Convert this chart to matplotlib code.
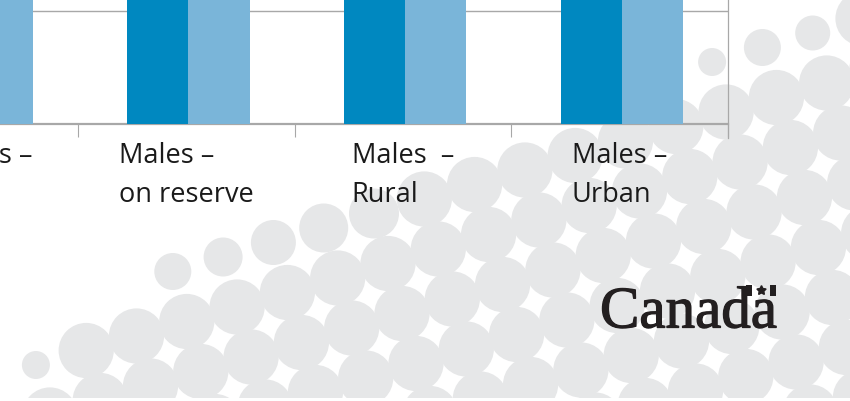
import numpy as np
import matplotlib
matplotlib.use("Agg")
import matplotlib.pyplot as plt
import matplotlib.patheffects as pe
from matplotlib.patches import Circle, Rectangle

# Datos (las barras salen por arriba del recorte)
categories = ["Females –\nUrban", "Males –\non reserve", "Males  –\nRural", "Males –\nUrban"]
dark_vals  = [24.0, 21.5, 27.0, 23.0]
light_vals = [25.5, 23.0, 28.5, 26.0]

dark_col  = "#0088c0"
light_col = "#7ab5d9"
grid_col  = "#a8a8a8"
dot_col   = "#e6e7e8"

W, H = 850, 402
fig = plt.figure(figsize=(W / 100, H / 100), dpi=100)

# --- fondo decorativo: circulos grises (coordenadas en pixeles, y hacia abajo)
bg = fig.add_axes([0, 0, 1, 1], zorder=0)
bg.set_xlim(0, W)
bg.set_ylim(H, 0)
bg.axis("off")

origin = np.array([438.3, 250.0])
u = np.array([50.3, -14.5])
v = np.array([14.0, 50.0])
R = 27.6
# radios parciales en las filas del borde del patron
edge_rows = {
    -2: {6: 14, 7: 18.5, 8: 17.5},
    -1: {-5: 18.5, -4: 19.5, -3: 22.5, -2: 24.5, -1: 25},
    0: {-8: 14},
}
row_start = {-2: 6, -1: -5, 0: -8}
for b in range(-2, 6):
    for a in range(-14, 14):
        if b in row_start and a < row_start[b]:
            continue
        r = edge_rows.get(b, {}).get(a, R)
        c = origin + a * u + b * v
        if -40 < c[0] < W + 40 and -40 < c[1] < H + 40:
            bg.add_patch(Circle(c, r, color=dot_col, lw=0))
bg.add_patch(Rectangle((0, 399), W, 5, color="white", lw=0, zorder=2))

# palabra "Canada" con la bandera
bg.text(600, 328.5, "Canada", family="Liberation Serif", fontsize=42.5,
        color="#231f20", ha="left", va="baseline", zorder=3,
        path_effects=[pe.withStroke(linewidth=0.9, foreground="#231f20")])
bg.add_patch(Rectangle((746.5, 286), 5.5, 11, color="#231f20", lw=0, zorder=3))
bg.add_patch(Rectangle((770.5, 286), 5.5, 11, color="#231f20", lw=0, zorder=3))
bg.plot([761.3], [291], marker=(5, 1, 0), ms=7, color="#231f20", zorder=3)

# --- grafico de barras
cat_px = 216.7
x_right = 728.0
x_left = x_right - len(categories) * cat_px
ax = fig.add_axes([x_left / W, 277 / H, (x_right - x_left) / W, 452 / H], zorder=1)
ax.patch.set_alpha(0)

x = np.arange(len(categories))
w = 0.282
ax.bar(x - w / 2 + 0.01, dark_vals, w, color=dark_col, zorder=3)
ax.bar(x + w / 2 + 0.01, light_vals, w, color=light_col, zorder=3)

ax.set_xlim(-0.5, len(categories) - 0.5)
ax.set_ylim(0, 40)
ax.set_yticks([10, 20, 30])
ax.yaxis.grid(True, color=grid_col, lw=1.0)
ax.set_axisbelow(True)
ax.tick_params(axis="y", left=False, labelleft=False)

ax.set_xticks(x)
ax.set_xticklabels(categories, family="Open Sans", fontsize=19.5, color="#1a1a1a")
for lab in ax.get_xticklabels():
    lab.set_multialignment("left")
    lab.set_linespacing(1.55)
ax.set_xticks(np.arange(len(categories) + 1) - 0.5, minor=True)
ax.tick_params(axis="x", which="major", length=0, pad=12)
ax.tick_params(axis="x", which="minor", length=9.4, width=0.8, color=grid_col)

for s in ["top", "left"]:
    ax.spines[s].set_visible(False)
ax.spines["bottom"].set_color(grid_col)
ax.spines["bottom"].set_linewidth(1.6)
ax.spines["right"].set_color(grid_col)
ax.spines["right"].set_linewidth(0.9)
ax.spines["right"].set_bounds(-0.03 * 40, 40)

fig.savefig("out.png", dpi=100)
